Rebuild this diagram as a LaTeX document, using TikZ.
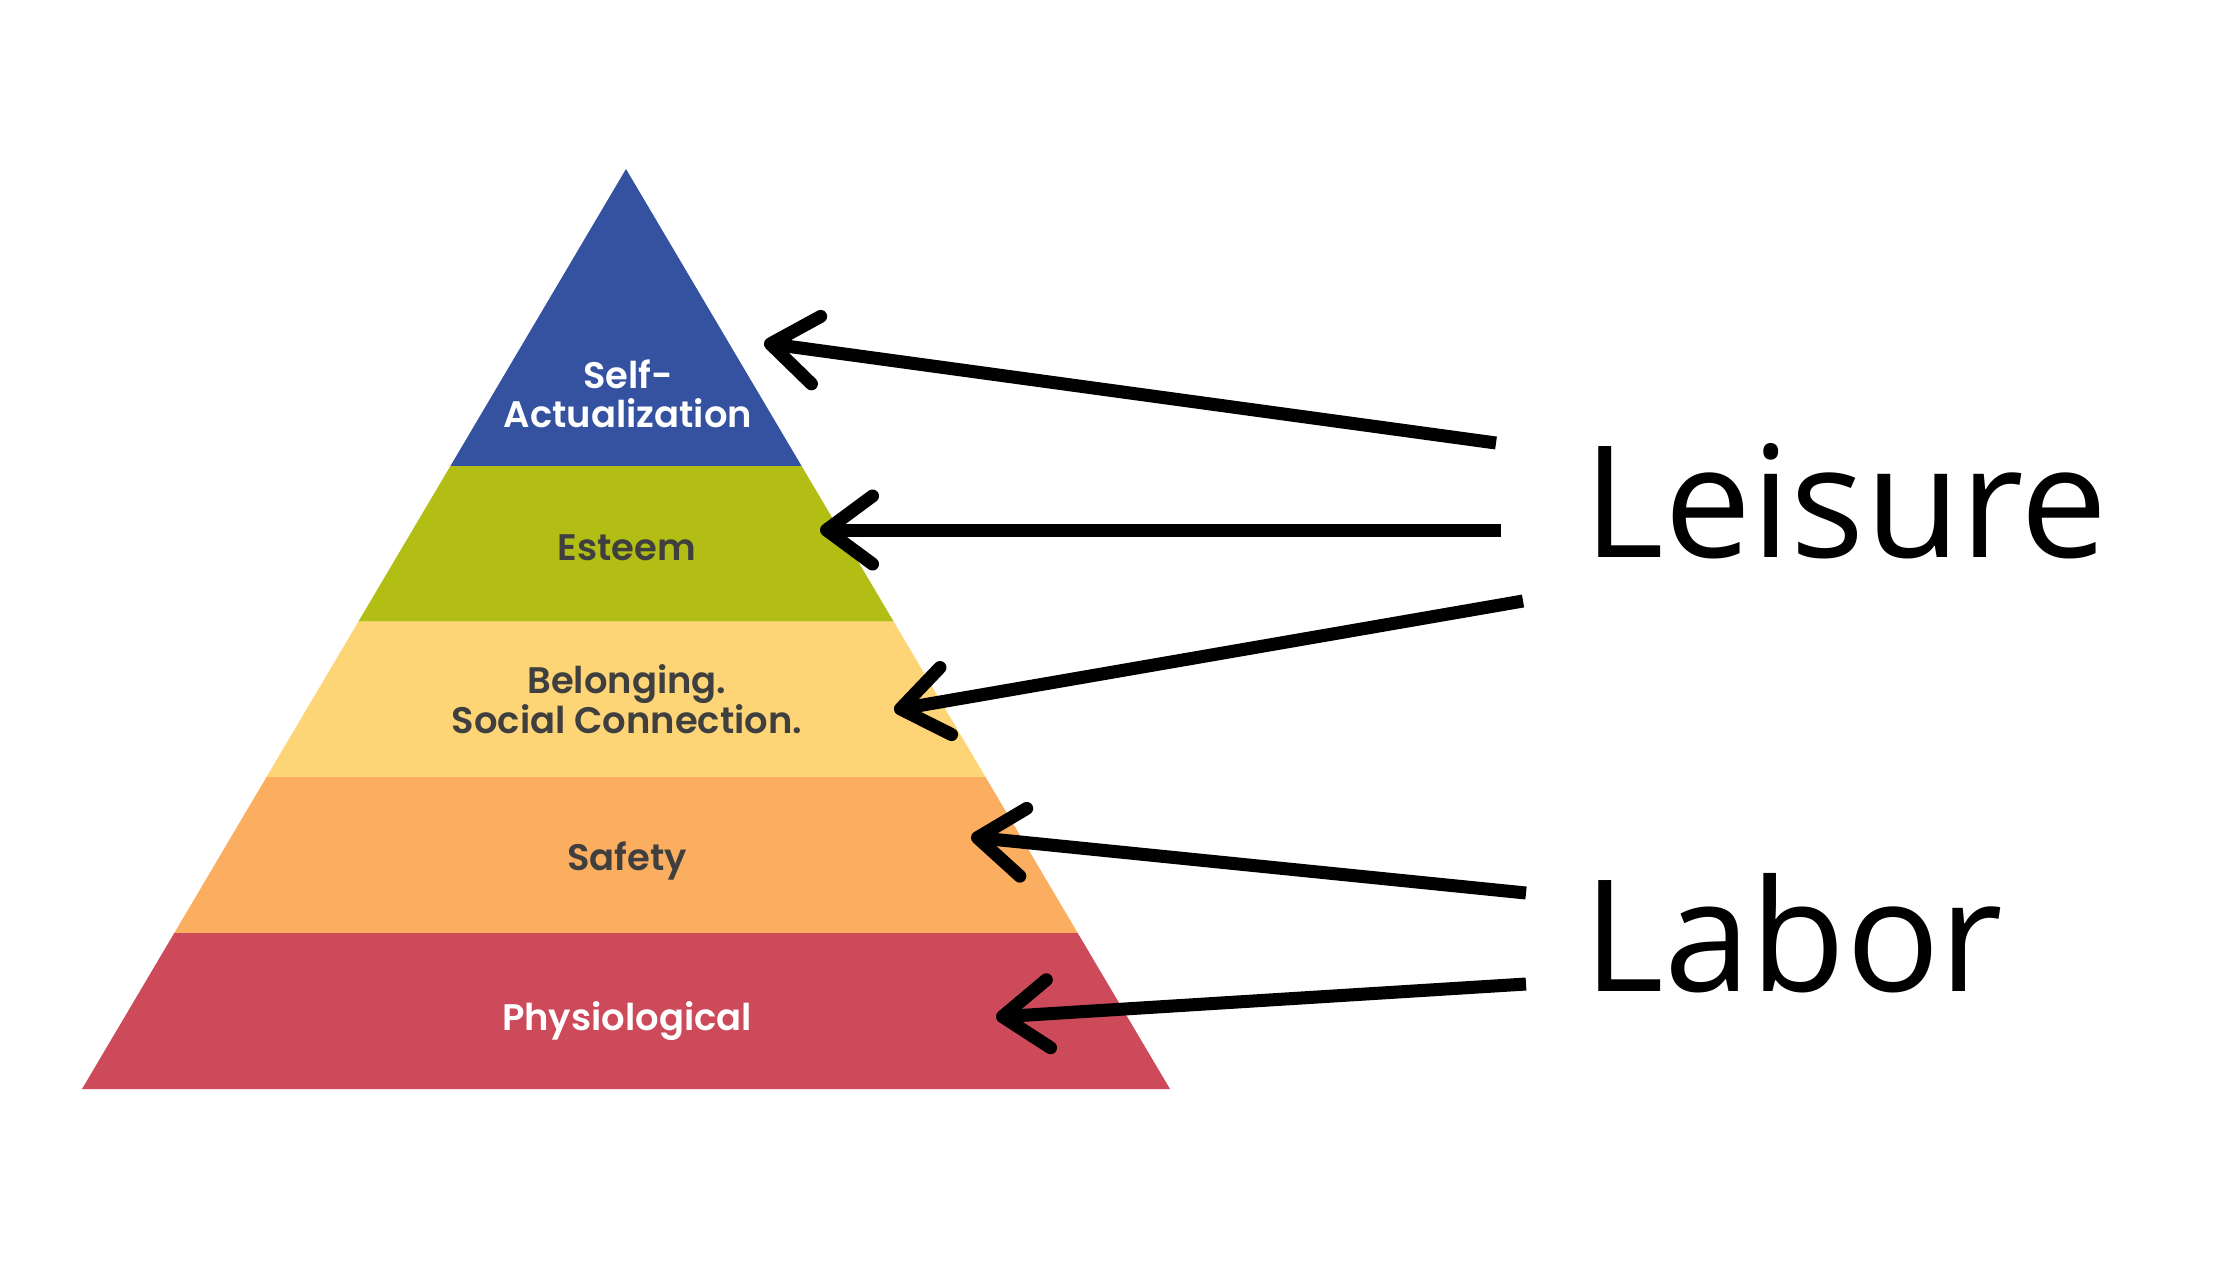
\documentclass[tikz,border=0pt]{standalone}
\usepackage{fontspec}
\setmainfont{Open Sans}
\newfontfamily\pyrfont{Poppins SemiBold}
\usetikzlibrary{arrows.meta}

\definecolor{topblue}{HTML}{34529F}
\definecolor{esteemgreen}{HTML}{B2BE14}
\definecolor{belongyellow}{HTML}{FDD577}
\definecolor{safeorange}{HTML}{FCAE60}
\definecolor{physred}{HTML}{CC4A5A}
\definecolor{labelgray}{HTML}{3F3F3F}

\begin{document}
\begin{tikzpicture}[x=0.01cm, y=-0.01cm, >={Straight Barb[length=4.6mm,width=6.8mm,round]},
  layer/.style={font=\pyrfont\fontsize{10.5}{11.2}\selectfont, align=center, text=labelgray},
  side/.style={font=\fontsize{44.2}{50}\selectfont, anchor=base west, inner sep=0pt},
  point/.style={->, line width=3.7pt}]
  \useasboundingbox[fill=white] (0,0) rectangle (2240,1260);

  % pyramid layers
  \fill[topblue] (626,169) -- (801.6,466) -- (450.4,466) -- cycle;
  \fill[esteemgreen] (450.4,466) -- (801.6,466) -- (893.6,621.5) -- (358.4,621.5) -- cycle;
  \fill[belongyellow] (358.4,621.5) -- (893.6,621.5) -- (985.5,777) -- (266.5,777) -- cycle;
  \fill[safeorange] (266.5,777) -- (985.5,777) -- (1077.7,933) -- (174.3,933) -- cycle;
  \fill[physred] (174.3,933) -- (1077.7,933) -- (1170,1089) -- (82,1089) -- cycle;

  \node[layer, text=white] (selfact) at (628,394) {Self-\\Actualization};
  \node[layer] (esteem) at (627,548) {Esteem};
  \node[layer] (belong) at (627,699) {Belonging.\\Social Connection.};
  \node[layer] (safety) at (627,861) {Safety};
  \node[layer, text=white] (physio) at (627,1021) {Physiological};

  \node[side] (leisure) at (1583,557) {Leisure};
  \node[side] (labor) at (1583,991) {Labor};

  % arrows
  \coordinate (fromself) at (1496,443);
  \coordinate (toself) at (764,343);
  \coordinate (fromesteem) at (1501,530);
  \coordinate (toesteem) at (820,530);
  \coordinate (frombelong) at (1523,601);
  \coordinate (tobelong) at (894,710);
  \coordinate (fromsafety) at (1526,893);
  \coordinate (tosafety) at (971,837);
  \coordinate (fromphysio) at (1526,984);
  \coordinate (tophysio) at (996,1017);

  \draw[point] (fromself) -- (toself);
  \draw[point] (fromesteem) -- (toesteem);
  \draw[point] (frombelong) -- (tobelong);
  \draw[point] (fromsafety) -- (tosafety);
  \draw[point] (fromphysio) -- (tophysio);
\end{tikzpicture}
\end{document}
